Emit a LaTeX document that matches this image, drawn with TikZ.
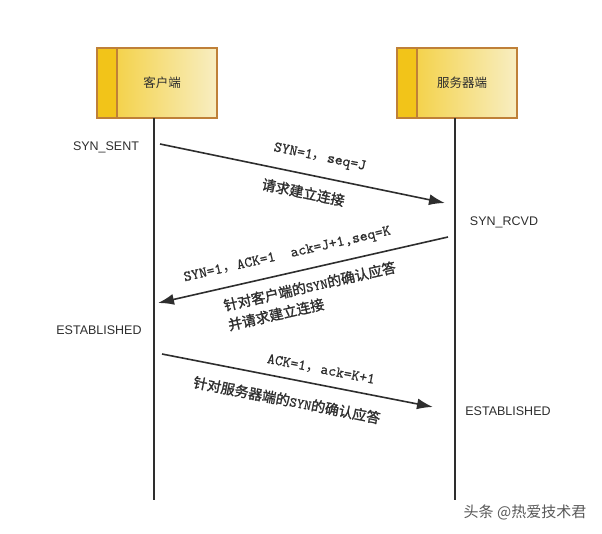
\documentclass[tikz,border=0pt]{standalone}
\usepackage{fontspec}
\setmainfont{Liberation Sans}
\newfontfamily\cjk[AutoFakeBold=1.5]{Noto Sans CJK SC}
\newfontfamily\mono[FakeBold=0.7]{lmmono10-regular.otf}
\usepackage{xcolor}
\usepackage{tikz}
\usetikzlibrary{positioning,arrows.meta}
\definecolor{boxline}{HTML}{BF8038}
\definecolor{stripfill}{HTML}{F2C419}
\definecolor{boxleft}{HTML}{F3CD35}
\definecolor{boxright}{HTML}{F8EEC2}
\definecolor{ink}{HTML}{2E2E2E}
\newcommand\zh[1]{{\cjk #1}}

\begin{document}
\begin{tikzpicture}[x=1pt,y=-1pt,>={Latex[length=16pt,width=11pt]},
  box/.style={rectangle,draw=boxline,line width=1.5pt,minimum width=120pt,minimum height=70pt,
    left color=boxleft,right color=boxright,
    path picture={\fill[stripfill] (path picture bounding box.south west) rectangle ([xshift=20pt]path picture bounding box.north west);
      \draw[boxline,line width=1.5pt] ([xshift=20pt]path picture bounding box.south west) -- ([xshift=20pt]path picture bounding box.north west);}},
  boxtext/.style={font=\cjk\fontsize{12.5}{14}\selectfont,text=ink},
  state/.style={font=\fontsize{12.5}{14}\selectfont,text=ink},
  life/.style={draw=ink,line width=1.8pt},
  msg/.style={draw=ink,line width=1.6pt},
  tag/.style={font=\mono\fontsize{15}{17}\selectfont,text=ink,sloped,inner sep=0pt},
  note/.style={font=\cjk\bfseries\fontsize{14}{20}\selectfont,text=ink,sloped,align=left,inner sep=0pt}]
  \useasboundingbox (0,0) rectangle (602,533);
  \node[box] (client) at (157,83) {};
  \node[boxtext] (clientname) at ([xshift=5pt]client.center) {客户端};
  \node[box] (server) at (457,83) {};
  \node[boxtext] (servername) at ([xshift=5pt]server.center) {服务器端};
  \coordinate (ctop) at (154,118);
  \coordinate (cbot) at (154,500);
  \coordinate (stop) at (455,118);
  \coordinate (sbot) at (455,500);
  \draw[life] (ctop) -- (cbot) (stop) -- (sbot);
  \coordinate (a1) at (160,144);
  \coordinate (b1) at (445,203);
  \coordinate (a2) at (158,303);
  \coordinate (b2) at (448,237);
  \coordinate (a3) at (162,354);
  \coordinate (b3) at (433,407);
  \draw[msg,->] (a1) -- (b1)
    node[tag,pos=0.547,above=12pt] (m1) {SYN=1\zh{，}seq=J}
    node[note,pos=0.516,below=11pt] (n1) {请求建立连接};
  \draw[msg,<-] (a2) -- (b2)
    node[tag,pos=0.46,above=11pt] (m2) {SYN=1\zh{，}ACK=1~~ack=J+1,seq=K}
    node[note,pos=0.51,below=10pt] (n2) {针对客户端的{\mono SYN}的确认应答\\并请求建立连接};
  \draw[msg,->] (a3) -- (b3)
    node[tag,pos=0.576,above=9pt] (m3) {ACK=1\zh{，}ack=K+1}
    node[note,pos=0.476,below=14pt] (n3) {针对服务器端的{\mono SYN}的确认应答};
  \node[state] (sent) at (106,147) {SYN\_SENT};
  \node[state] (rcvd) at (504,222) {SYN\_RCVD};
  \node[state] (cest) at (99,330) {ESTABLISHED};
  \node[state] (sest) at (508,411) {ESTABLISHED};
  \node[font=\cjk\fontsize{15}{17}\selectfont,text=gray!70!black] (mark) at (525,512) {头条 @热爱技术君};
\end{tikzpicture}
\end{document}
